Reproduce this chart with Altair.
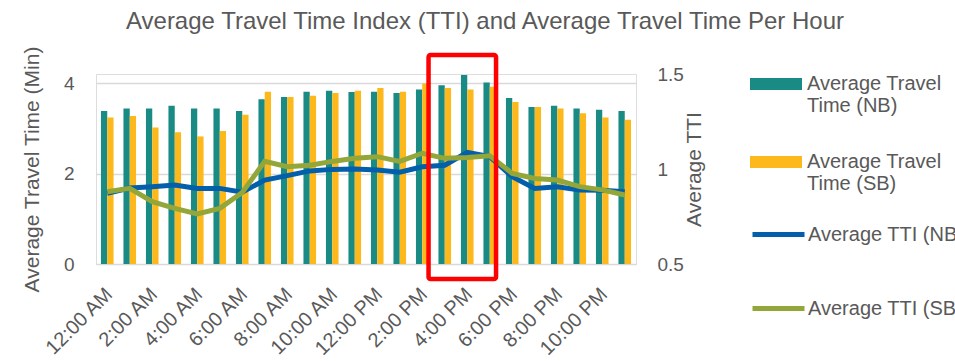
import altair as alt
import pandas as pd

hours = ["12:00 AM", "1:00 AM", "2:00 AM", "3:00 AM", "4:00 AM", "5:00 AM",
         "6:00 AM", "7:00 AM", "8:00 AM", "9:00 AM", "10:00 AM", "11:00 AM",
         "12:00 PM", "1:00 PM", "2:00 PM", "3:00 PM", "4:00 PM", "5:00 PM",
         "6:00 PM", "7:00 PM", "8:00 PM", "9:00 PM", "10:00 PM", "11:00 PM"]
tick_hours = hours[::2]

tt_nb = [3.38, 3.44, 3.44, 3.50, 3.44, 3.44, 3.38, 3.64, 3.69, 3.81, 3.83, 3.80,
         3.81, 3.78, 3.86, 3.95, 4.18, 4.01, 3.67, 3.47, 3.50, 3.44, 3.41, 3.38]
tt_sb = [3.24, 3.27, 3.02, 2.91, 2.82, 2.94, 3.30, 3.81, 3.69, 3.72, 3.78, 3.83,
         3.89, 3.81, 3.99, 3.89, 3.86, 3.92, 3.58, 3.47, 3.44, 3.33, 3.24, 3.19]
tti_nb = [0.872, 0.900, 0.907, 0.916, 0.898, 0.898, 0.878, 0.942, 0.965, 0.990, 0.998, 1.000,
          0.995, 0.983, 1.012, 1.020, 1.088, 1.065, 0.960, 0.898, 0.907, 0.890, 0.888, 0.880]
tti_sb = [0.880, 0.898, 0.828, 0.793, 0.763, 0.793, 0.876, 1.040, 1.012, 1.020, 1.040, 1.056,
          1.065, 1.040, 1.083, 1.056, 1.060, 1.070, 0.977, 0.950, 0.942, 0.907, 0.890, 0.863]

bar_series = ["Average Travel|Time (NB)", "Average Travel|Time (SB)"]
line_series = ["Average TTI (NB)", "Average TTI (SB)"]
bar_colors = ["#1A8B84", "#FDB81B"]
line_colors = ["#035EAC", "#93A63A"]

# highlighted peak period (red box annotation): from end of 2 PM bar to end of 5 PM bar
highlight_after = ["2:00 PM"]
highlight_end = ["5:00 PM"]
highlight_low = [-0.33]
highlight_high = [4.62]

FONT = "Liberation Sans, Arial, sans-serif"
GRAY = "#595959"

bars_df = pd.DataFrame({
    "hour": hours * 2,
    "series": [bar_series[0]] * 24 + [bar_series[1]] * 24,
    "value": tt_nb + tt_sb,
})
lines_df = pd.DataFrame({
    "hour": hours * 2,
    "series": [line_series[0]] * 24 + [line_series[1]] * 24,
    "tti": tti_nb + tti_sb,
})
box_df = pd.DataFrame({"start": highlight_after, "end": highlight_end,
                       "low": highlight_low, "high": highlight_high})

x_scale = alt.Scale(domain=hours, paddingInner=0.44, paddingOuter=0.22)

x_enc = alt.X("hour:N", sort=None, scale=x_scale,
              axis=alt.Axis(values=tick_hours, labelAngle=-45, domain=False, ticks=False,
                            labelFontSize=20, labelColor=GRAY, labelFont=FONT,
                            labelPadding=20, labelOffset=-5, title=None))

bars = alt.Chart(bars_df).mark_bar().encode(
    x=x_enc,
    xOffset=alt.XOffset("series:N", sort=bar_series),
    y=alt.Y("value:Q", scale=alt.Scale(domain=[0, 4.2], nice=False),
            axis=alt.Axis(values=[0, 2, 4], grid=True, gridColor="#D9D9D9", gridWidth=1.5,
                          domain=False, ticks=False, labelFontSize=19, labelColor=GRAY,
                          labelFont=FONT, labelPadding=22,
                          title="Average Travel Time (Min)", titleFontSize=21,
                          titleFontWeight="normal", titleColor=GRAY, titleFont=FONT,
                          titlePadding=21)),
    color=alt.Color("series:N", sort=bar_series,
                    scale=alt.Scale(domain=bar_series, range=bar_colors),
                    legend=alt.Legend(orient="none", legendX=654, legendY=-16, title=None,
                                      symbolType="M-1,-0.23H1V0.23H-1Z", symbolSize=2704,
                                      symbolStrokeWidth=0, symbolOpacity=1,
                                      labelFontSize=20, labelFont=FONT, labelColor=GRAY,
                                      labelLimit=300, labelOffset=5, rowPadding=20,
                                      labelExpr="split(datum.label, '|')")),
)

lines = alt.Chart(lines_df).mark_line(strokeWidth=5).encode(
    x=x_enc,
    y=alt.Y("tti:Q", scale=alt.Scale(domain=[0.5, 1.5], nice=False),
            axis=alt.Axis(orient="right", values=[0.5, 1, 1.5], format="~g", grid=False,
                          domain=False, ticks=False, labelFontSize=19, labelColor=GRAY,
                          labelFont=FONT, labelPadding=21,
                          title="Average TTI", titleFontSize=21, titleAngle=270,
                          titleFontWeight="normal", titleColor=GRAY, titleFont=FONT,
                          titlePadding=21)),
    color=alt.Color("series:N", sort=line_series,
                    scale=alt.Scale(domain=line_series, range=line_colors),
                    legend=alt.Legend(orient="none", legendX=654, legendY=132, title=None,
                                      symbolType="stroke", symbolSize=2704,
                                      symbolStrokeWidth=5, symbolOpacity=1,
                                      labelFontSize=20, labelFont=FONT, labelColor=GRAY,
                                      labelLimit=300, labelOffset=1, rowPadding=35)),
)

box = alt.Chart(box_df).mark_rect(
    fill="transparent", stroke="#FF0000", strokeWidth=4.5, cornerRadius=2, clip=False
).encode(
    x=alt.X("start:N", sort=None, scale=x_scale, bandPosition=1),
    x2=alt.X2("end:N", bandPosition=1),
    y=alt.Y("high:Q", scale=alt.Scale(domain=[0, 4.2], nice=False), axis=None),
    y2="low:Q",
)

chart = alt.layer(bars, lines, box).resolve_scale(
    y="independent", color="independent"
).properties(
    width=540, height=190,
    autosize=alt.AutoSizeParams(type="none"),
    padding={"left": 96, "top": 74, "right": 319, "bottom": 97},
    title=alt.TitleParams("Average Travel Time Index (TTI) and Average Travel Time Per Hour",
                          fontSize=24, font=FONT, color=GRAY, fontWeight="normal",
                          anchor="middle", dx=119, offset=12),
).configure_view(stroke="transparent", strokeWidth=0).configure(background="white")

chart.save("out.html", embed_options={"renderer": "svg", "actions": False})
